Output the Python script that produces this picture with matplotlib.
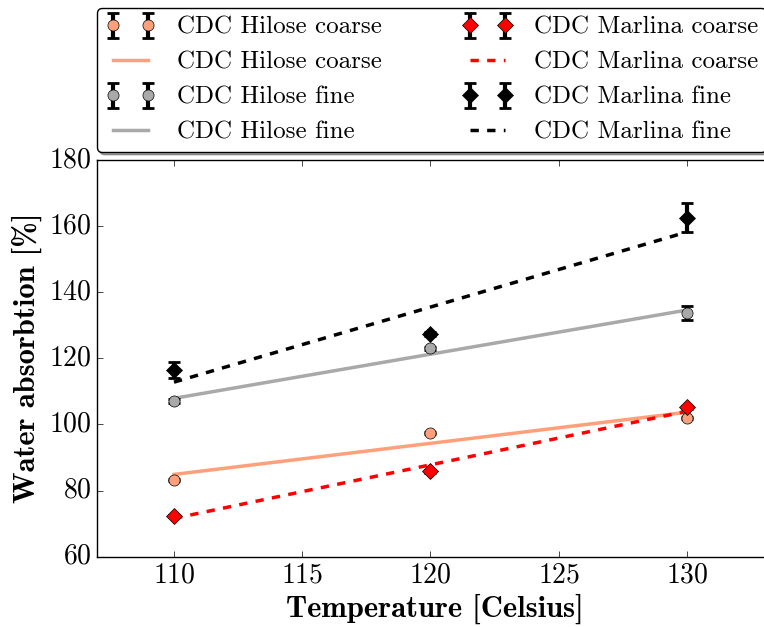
import matplotlib
matplotlib.use("Agg")
import matplotlib.pyplot as plt

plt.style.use("classic")
plt.rcParams["font.family"] = "cmr10"
plt.rcParams["axes.formatter.use_mathtext"] = True
plt.rcParams["font.size"] = 20

temperature = [110, 120, 130]

hilose_coarse = [83.3, 97.5, 102.0]
hilose_coarse_err = [0.3, 0.3, 0.4]
hilose_fine = [107.1, 123.0, 133.7]
hilose_fine_err = [0.5, 0.5, 2.0]
marlina_coarse = [72.2, 85.8, 105.2]
marlina_coarse_err = [0.3, 0.4, 0.4]
marlina_fine = [116.5, 127.3, 162.5]
marlina_fine_err = [2.4, 0.6, 4.4]

# fitted lines, endpoints
fit_temperature = [110, 130]
hilose_coarse_fit = [84.9, 103.7]
hilose_fine_fit = [107.9, 134.6]
marlina_coarse_fit = [71.6, 104.0]
marlina_fine_fit = [112.8, 158.2]

label_hc = "CDC Hilose coarse"
label_hf = "CDC Hilose fine"
label_mc = "CDC Marlina coarse"
label_mf = "CDC Marlina fine"

salmon = "#ffa07a"
gray = "#a9a9a9"

fig = plt.figure(figsize=(7.64, 6.27), dpi=100)
fig.patch.set_facecolor("white")
ax = fig.add_axes([0.127, 0.112, 0.885, 0.633])

err_style = dict(ecolor="black", elinewidth=3, capsize=4, capthick=2,
                 markersize=8, markeredgecolor="black", linestyle="none")

hc_line, = ax.plot(fit_temperature, hilose_coarse_fit, color=salmon, lw=2.5)
hf_line, = ax.plot(fit_temperature, hilose_fine_fit, color=gray, lw=2.5)
mc_line, = ax.plot(fit_temperature, marlina_coarse_fit, color="red", lw=2.5, ls="--")
mf_line, = ax.plot(fit_temperature, marlina_fine_fit, color="black", lw=2.5, ls="--")

hc_err = ax.errorbar(temperature, hilose_coarse, yerr=hilose_coarse_err,
                     marker="o", markerfacecolor=salmon, **err_style)
hf_err = ax.errorbar(temperature, hilose_fine, yerr=hilose_fine_err,
                     marker="o", markerfacecolor=gray, **err_style)
mc_err = ax.errorbar(temperature, marlina_coarse, yerr=marlina_coarse_err,
                     marker="D", markerfacecolor="red", **err_style)
mf_err = ax.errorbar(temperature, marlina_fine, yerr=marlina_fine_err,
                     marker="D", markerfacecolor="black", **err_style)

ax.set_xlim(107, 133.36)
ax.set_ylim(60, 180)
ax.set_xticks([110, 115, 120, 125, 130])
ax.set_yticks([60, 80, 100, 120, 140, 160, 180])
ax.tick_params(labelsize=20)

ax.set_xlabel("Temperature [Celsius]", family="cmb10", fontsize=22, labelpad=4)
ax.set_ylabel("Water absorbtion [%]", family="cmb10", fontsize=22)

handles = [hc_err, hc_line, hf_err, hf_line, mc_err, mc_line, mf_err, mf_line]
labels = [label_hc, label_hc, label_hf, label_hf, label_mc, label_mc, label_mf, label_mf]
leg = ax.legend(handles, labels, ncol=2, numpoints=2, loc="lower left",
                bbox_to_anchor=(0.0, 1.02), fancybox=True, shadow=True,
                fontsize=18, labelspacing=0.5, columnspacing=3.25,
                handlelength=2.0, handletextpad=0.86, borderpad=0.32,
                borderaxespad=0.0)

fig.savefig("out.png", dpi=100)
plt.close(fig)
